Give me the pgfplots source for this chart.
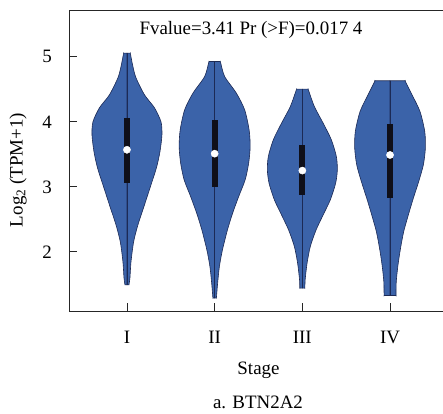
\documentclass[border=0pt]{standalone}
\usepackage{fontspec}
\setmainfont{Liberation Serif}
\usepackage{pgfplots}
\usepackage{pgfplotstable}
\pgfplotsset{compat=1.18}
\definecolor{vfill}{RGB}{59,99,169}
\definecolor{vedge}{RGB}{28,42,85}
\definecolor{vbox}{RGB}{15,15,25}

\pgfplotstableread{
v w
1.492 0
1.492 0.023
1.492 0.023
1.600 0.034
1.846 0.046
2.154 0.076
2.415 0.125
2.723 0.200
3.031 0.274
3.292 0.336
3.538 0.376
3.800 0.399
4.000 0.388
4.215 0.314
4.415 0.200
4.677 0.103
4.850 0.068
5.057 0.038
5.057 0.038
5.057 0
}\violinI

\pgfplotstableread{
v w
1.290 0
1.290 0.020
1.290 0.020
1.518 0.034
1.774 0.054
2.031 0.089
2.338 0.146
2.595 0.205
2.851 0.274
3.108 0.348
3.365 0.388
3.620 0.405
3.877 0.393
4.185 0.342
4.442 0.247
4.697 0.114
4.928 0.065
4.928 0.065
4.928 0
}\violinII

\pgfplotstableread{
v w
1.442 0
1.442 0.029
1.442 0.029
1.569 0.032
1.826 0.054
2.082 0.091
2.338 0.157
2.595 0.247
2.800 0.319
3.057 0.380
3.262 0.399
3.466 0.388
3.723 0.331
3.980 0.237
4.235 0.137
4.503 0.066
4.503 0.066
4.503 0
}\violinIII

\pgfplotstableread{
v w
1.328 0
1.328 0.068
1.328 0.068
1.543 0.071
1.800 0.091
2.057 0.120
2.312 0.156
2.569 0.209
2.826 0.266
3.082 0.327
3.338 0.380
3.595 0.403
3.851 0.396
4.158 0.342
4.415 0.251
4.631 0.171
4.631 0.171
4.631 0
}\violinIV

\begin{document}
\begin{tikzpicture}
\begin{axis}[
  scale only axis, width=374bp, height=301bp,
  xmin=0.339, xmax=4.604, ymin=1.09, ymax=5.72,
  axis lines=left,
  axis line style={-, line width=0.9bp, draw=black!85},
  tick align=inside, major tick length=8bp,
  tick style={line width=0.9bp, black!85},
  xtick={1,2,3,4}, xticklabels={I,II,III,IV},
  ytick={2,3,4,5},
  tick label style={font=\fontsize{19}{22}\selectfont},
  /pgf/number format/assume math mode=true,
  xticklabel style={anchor=base, inner sep=0pt, yshift=-32bp},
  yticklabel style={anchor=east, inner sep=0pt, xshift=-17bp},
  clip=false,
  violin/.style={fill=vfill, draw=vedge, line width=0.6bp, smooth, tension=0.45},
]
\coordinate (sw) at (rel axis cs:0,0);
\coordinate (ne) at (rel axis cs:1,1);
\draw[line width=0.9bp, black!85] (rel axis cs:0,1) -- (rel axis cs:1,1);

% violins: right and left halves
\addplot[violin] table[x expr=1+\thisrow{w}, y=v] {\violinI} -- cycle;
\addplot[violin] table[x expr=1-\thisrow{w}, y=v] {\violinI} -- cycle;
\addplot[violin] table[x expr=2+\thisrow{w}, y=v] {\violinII} -- cycle;
\addplot[violin] table[x expr=2-\thisrow{w}, y=v] {\violinII} -- cycle;
\addplot[violin] table[x expr=3+\thisrow{w}, y=v] {\violinIII} -- cycle;
\addplot[violin] table[x expr=3-\thisrow{w}, y=v] {\violinIII} -- cycle;
\addplot[violin] table[x expr=4+\thisrow{w}, y=v] {\violinIV} -- cycle;
\addplot[violin] table[x expr=4-\thisrow{w}, y=v] {\violinIV} -- cycle;

% whisker lines
\addplot[vedge, line width=0.8bp] coordinates {(1,1.492) (1,5.057)};
\addplot[vedge, line width=0.8bp] coordinates {(2,1.290) (2,4.928)};
\addplot[vedge, line width=0.8bp] coordinates {(3,1.442) (3,4.503)};
\addplot[vedge, line width=0.8bp] coordinates {(4,1.328) (4,4.631)};

% IQR boxes
\addplot[vbox, line width=6bp] coordinates {(1,3.06) (1,4.06)};
\addplot[vbox, line width=6bp] coordinates {(2,3.00) (2,4.03)};
\addplot[vbox, line width=6bp] coordinates {(3,2.88) (3,3.65)};
\addplot[vbox, line width=6bp] coordinates {(4,2.83) (4,3.965)};

% medians
\addplot[only marks, mark=*, mark size=3.6bp, mark options={fill=white, draw=white}] coordinates {(1,3.57) (2,3.51) (3,3.25) (4,3.49)};
\end{axis}
\node[anchor=base, font=\fontsize{19}{22}\selectfont] at ([shift={(182bp,276bp)}]sw) {Fvalue=3.41 Pr (>F)=0.017 4};
\node[rotate=90, anchor=center, font=\fontsize{19}{22}\selectfont] at ([shift={(-51bp,141bp)}]sw) {Log\textsubscript{2} (TPM+1)};
\node[anchor=base, font=\fontsize{19}{22}\selectfont] at ([shift={(189.5bp,-63bp)}]sw) {Stage};
\node[anchor=base, font=\fontsize{19}{22}\selectfont] at ([shift={(189bp,-97bp)}]sw) {a. BTN2A2};
\pgfresetboundingbox
\path ([shift={(-69bp,-103bp)}]sw) rectangle ([shift={(0bp,10bp)}]ne);
\end{tikzpicture}
\end{document}
